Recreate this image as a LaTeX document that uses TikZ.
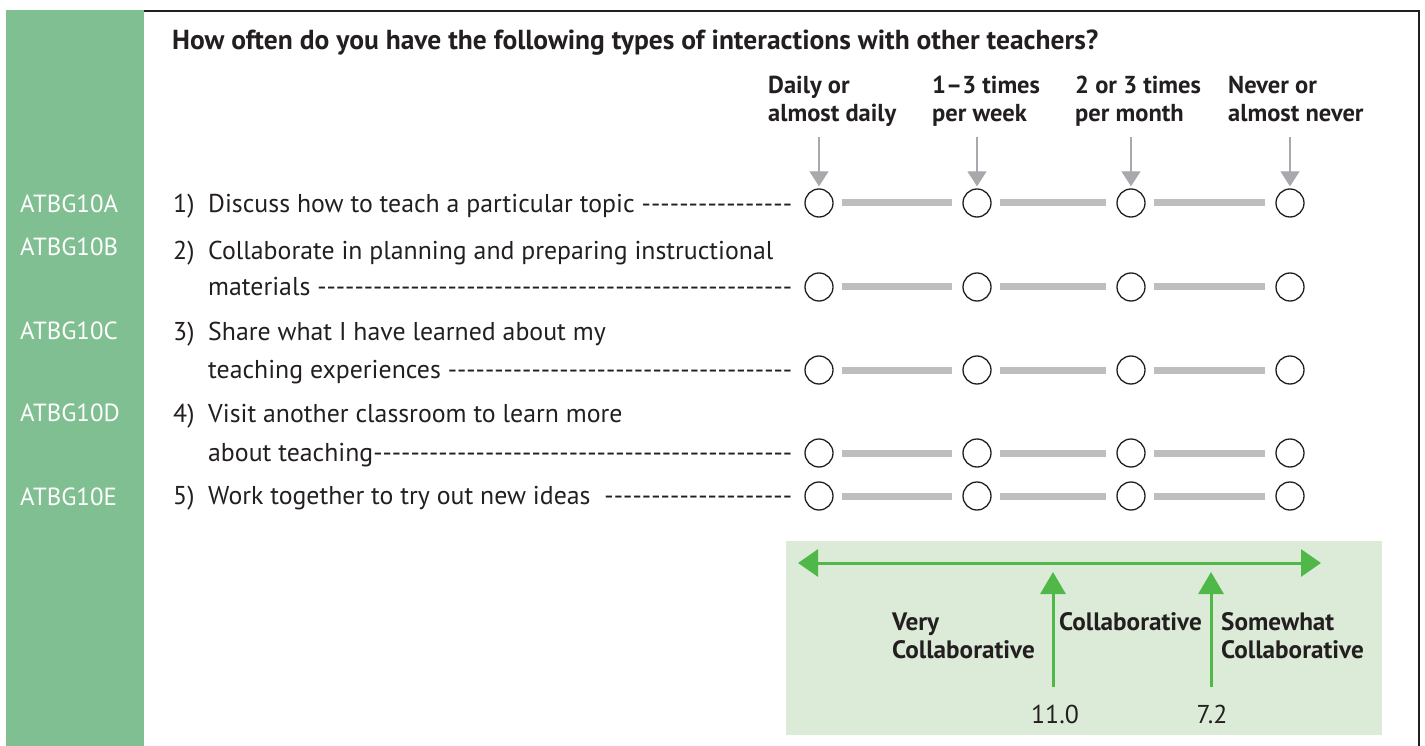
\documentclass[tikz,border=0pt]{standalone}
\usepackage{fontspec}
\setmainfont{PT Sans}
\usetikzlibrary{arrows.meta}
\definecolor{side}{HTML}{80BF91}
\definecolor{boxg}{HTML}{DCEBD7}
\definecolor{arrg}{HTML}{50B848}
\definecolor{ink}{HTML}{231F20}
\definecolor{arrgray}{HTML}{A7A9AC}
\definecolor{bargray}{HTML}{BCBEC0}
\newcommand{\lead}[2]{\hbox to #1{#2\xleaders\hbox{-}\hfill}}
\tikzset{
  body/.style={anchor=mid west, inner sep=0pt, text=ink, font=\fontsize{25.8}{30}\selectfont},
  head/.style={anchor=mid west, inner sep=0pt, text=ink, font=\fontsize{24.5}{28}\selectfont\bfseries},
  lab/.style={anchor=mid west, inner sep=0pt, text=ink, font=\fontsize{25.2}{28}\selectfont\bfseries},
  code/.style={anchor=mid west, inner sep=0pt, text=white, font=\fontsize{24.8}{28}\selectfont},
  circ/.style={circle, draw=ink, line width=1.3pt, minimum size=28pt, inner sep=0pt},
  bar/.style={draw=bargray, line width=7pt, shorten <=8pt, shorten >=10pt},
  garrow/.style={draw=arrgray, line width=1.2pt, -{Triangle[length=15pt,width=19pt]}, shorten >=2pt},
  greenline/.style={draw=arrg, line width=3pt},
}
\begin{document}
\begin{tikzpicture}[x=1pt,y=-1pt]
\useasboundingbox (0,0) rectangle (1425,746);
\fill[side] (6,10) rectangle (144,746);
\draw[ink, line width=2.5pt] (144,11) -| (1419,746);

\node[anchor=base west, inner sep=0pt, text=ink, font=\fontsize{27.5}{30}\selectfont\bfseries] (title) at (172,50) {How often do you have the following types of interactions with other teachers?};

% column headings
\node[head] (hA1) at (768,91) {Daily or};
\node[head] (hA2) at (768,119) {almost daily};
\node[head] (hB1) at (932,91) {1–3 times};
\node[head] (hB2) at (932,119) {per week};
\node[head] (hC1) at (1075,91) {2 or 3 times};
\node[head] (hC2) at (1075,119) {per month};
\node[head] (hD1) at (1228,91) {Never or};
\node[head] (hD2) at (1228,119) {almost never};

% codes
\node[code] (kA) at (20,210) {ATBG10A};
\node[code] (kB) at (20,253) {ATBG10B};
\node[code] (kC) at (20,337) {ATBG10C};
\node[code] (kD) at (20,419) {ATBG10D};
\node[code] (kE) at (20,503) {ATBG10E};

% item numbers
\node[body] (n1) at (173,210) {1)};
\node[body] (n2) at (173,257) {2)};
\node[body] (n3) at (173,338) {3)};
\node[body] (n4) at (173,420) {4)};
\node[body] (n5) at (173,502) {5)};

% item texts
\node[body] (t1) at (208,210) {\lead{584pt}{Discuss how to teach a particular topic }};
\node[body] (t2a) at (208,257) {Collaborate in planning and preparing instructional};
\node[body] (t2) at (208,293) {\lead{584pt}{materials }};
\node[body] (t3a) at (208,338) {Share what I have learned about my};
\node[body] (t3) at (208,376) {\lead{584pt}{teaching experiences }};
\node[body] (t4a) at (208,420) {Visit another classroom to learn more};
\node[body] (t4) at (208,459) {\lead{584pt}{about teaching}};
\node[body] (t5) at (208,502) {\lead{584pt}{Work together to try out new ideas\ \ }};

% circles and bars
\foreach \r/\y in {1/203,2/287,3/370,4/453,5/496}{
  \node[circ] (c\r1) at (819,\y) {};
  \node[circ] (c\r2) at (977,\y) {};
  \node[circ] (c\r3) at (1131,\y) {};
  \node[circ] (c\r4) at (1290,\y) {};
  \draw[bar] (c\r1) -- (c\r2);
  \draw[bar] (c\r2) -- (c\r3);
  \draw[bar] (c\r3) -- (c\r4);
}

% heading arrows
\coordinate (aA) at (819,137);
\coordinate (aB) at (977,137);
\coordinate (aC) at (1131,137);
\coordinate (aD) at (1290,137);
\draw[garrow] (aA) -- (c11);
\draw[garrow] (aB) -- (c12);
\draw[garrow] (aC) -- (c13);
\draw[garrow] (aD) -- (c14);

% scale box
\fill[boxg] (786,541) rectangle (1382,735);
\coordinate (sl) at (798,563);
\coordinate (sr) at (1321,563);
\draw[greenline, {Triangle[length=20pt,width=27pt]}-{Triangle[length=20pt,width=27pt]}] (sl) -- (sr);
\coordinate (v1b) at (1053,687);
\coordinate (v1t) at (1053,572);
\coordinate (v2b) at (1211,687);
\coordinate (v2t) at (1211,572);
\draw[greenline, -{Triangle[length=22pt,width=25pt]}] (v1b) -- (v1t);
\draw[greenline, -{Triangle[length=22pt,width=25pt]}] (v2b) -- (v2t);

\node[lab] (lv1) at (892,628) {Very};
\node[lab] (lv2) at (892,656) {Collaborative};
\node[lab] (lc) at (1059,628) {Collaborative};
\node[lab] (ls1) at (1221,628) {Somewhat};
\node[lab] (ls2) at (1221,656) {Collaborative};
\node[body, anchor=mid] (n110) at (1055,721) {11.0};
\node[body, anchor=mid] (n72) at (1212,721) {7.2};
\end{tikzpicture}
\end{document}
